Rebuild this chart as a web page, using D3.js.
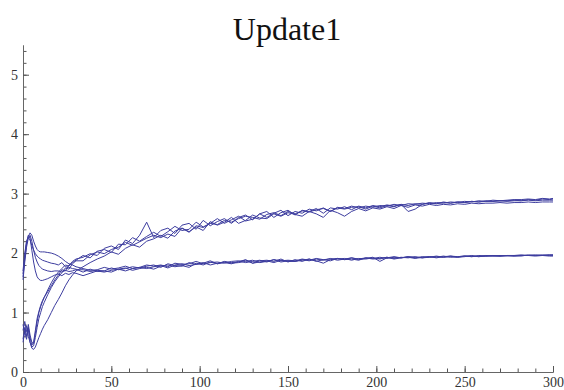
<!DOCTYPE html>
<html>
<head>
<meta charset="utf-8">
<script src="https://cdn.jsdelivr.net/npm/d3@7"></script>
</head>
<body style="margin:0">
<svg id="plot" width="564" height="390"></svg>
<script>
const margin = { top: 45, right: 11, bottom: 18, left: 23 },
	width = 564 - margin.left - margin.right,
	height = 390 - margin.top - margin.bottom;

const title = "Update1";
const line_colour = "#3d3d9f";
const serif = '"Liberation Serif"';

// shared x positions (finer at the start)
const xs = [
	0, 1, 2, 3, 4, 5, 6, 7, 8, 9, 10, 11, 12, 14, 16, 18, 20, 22, 24, 26, 28, 30,
	34, 38, 42, 46, 50, 54, 58, 62, 66, 70,
	74, 78, 82, 86, 90, 94, 98, 102, 106, 110,
	114, 118, 122, 126, 130, 134, 138, 142, 146, 150,
	154, 158, 162, 166, 170, 174, 178, 182, 186, 190,
	194, 198, 202, 206, 210, 214, 218, 222, 226, 230,
	234, 238, 242, 246, 250, 254, 258, 262, 266, 270,
	274, 278, 282, 286, 290, 294, 298, 300
];

// upper group (start low, settle near 2.9)
const run_u1 = [
	0.55, 0.75, 0.6, 0.8, 0.62, 0.5, 0.48, 0.65, 0.85, 1.0, 1.1, 1.18, 1.25, 1.38, 1.5, 1.6, 1.68, 1.74, 1.8, 1.78, 1.86, 1.9,
	1.93, 1.99, 1.96, 2.08, 2.12, 2.06, 2.22, 2.16, 2.3, 2.52,
	2.26, 2.38, 2.42, 2.33, 2.47, 2.5, 2.4, 2.55, 2.46, 2.53,
	2.58, 2.5, 2.6, 2.64, 2.56, 2.66, 2.7, 2.6, 2.68, 2.72,
	2.64, 2.72, 2.7, 2.75, 2.67, 2.76, 2.74, 2.78, 2.73, 2.79,
	2.76, 2.8, 2.78, 2.81, 2.79, 2.82, 2.8, 2.83, 2.82, 2.85,
	2.83, 2.86, 2.84, 2.86, 2.85, 2.87, 2.86, 2.88, 2.87, 2.88,
	2.88, 2.89, 2.88, 2.9, 2.89, 2.91, 2.9, 2.91
];
const run_u2 = [
	0.7, 0.85, 0.68, 0.75, 0.58, 0.45, 0.5, 0.7, 0.9, 1.02, 1.12, 1.2, 1.26, 1.35, 1.45, 1.55, 1.63, 1.72, 1.7, 1.8, 1.84, 1.88,
	1.96, 1.92, 2.03, 2.06, 2.01, 2.15, 2.14, 2.26, 2.2, 2.28,
	2.35, 2.28, 2.36, 2.45, 2.38, 2.4, 2.52, 2.44, 2.5, 2.58,
	2.5, 2.56, 2.62, 2.54, 2.57, 2.66, 2.6, 2.67, 2.72, 2.63,
	2.7, 2.67, 2.74, 2.71, 2.76, 2.7, 2.77, 2.75, 2.79, 2.76,
	2.79, 2.77, 2.8, 2.79, 2.82, 2.8, 2.83, 2.82, 2.84, 2.83,
	2.85, 2.84, 2.86, 2.85, 2.87, 2.86, 2.88, 2.87, 2.89, 2.88,
	2.89, 2.9, 2.9, 2.91, 2.9, 2.92, 2.91, 2.92
];
const run_u3 = [
	0.8, 0.65, 0.78, 0.6, 0.5, 0.42, 0.44, 0.58, 0.75, 0.9, 1.0, 1.1, 1.17, 1.3, 1.42, 1.52, 1.6, 1.67, 1.75, 1.73, 1.82, 1.87,
	1.87, 1.97, 2.02, 1.99, 2.06, 2.1, 2.18, 2.13, 2.19, 2.25,
	2.3, 2.26, 2.32, 2.28, 2.42, 2.36, 2.44, 2.38, 2.53, 2.47,
	2.52, 2.6, 2.5, 2.55, 2.64, 2.59, 2.58, 2.66, 2.62, 2.68,
	2.65, 2.62, 2.7, 2.66, 2.6, 2.72, 2.68, 2.62, 2.7, 2.75,
	2.71, 2.76, 2.74, 2.78, 2.75, 2.8, 2.77, 2.81, 2.79, 2.82,
	2.8, 2.82, 2.81, 2.83, 2.82, 2.84, 2.83, 2.84, 2.84, 2.85,
	2.84, 2.85, 2.85, 2.86, 2.85, 2.86, 2.86, 2.86
];
const run_u4 = [
	0.5, 0.68, 0.55, 0.72, 0.5, 0.4, 0.38, 0.42, 0.5, 0.58, 0.65, 0.72, 0.78, 0.88, 1.0, 1.12, 1.22, 1.33, 1.45, 1.55, 1.63, 1.7,
	1.77, 1.84, 1.9, 1.95, 2.02, 1.98, 2.08, 2.14, 2.1, 2.2,
	2.24, 2.3, 2.25, 2.37, 2.42, 2.35, 2.46, 2.43, 2.5, 2.48,
	2.55, 2.52, 2.58, 2.62, 2.6, 2.57, 2.65, 2.68, 2.63, 2.7,
	2.66, 2.71, 2.69, 2.73, 2.75, 2.7, 2.76, 2.74, 2.77, 2.78,
	2.74, 2.79, 2.76, 2.8, 2.78, 2.82, 2.7, 2.74, 2.82, 2.84,
	2.83, 2.85, 2.84, 2.86, 2.85, 2.87, 2.86, 2.87, 2.87, 2.88,
	2.87, 2.88, 2.88, 2.89, 2.88, 2.89, 2.89, 2.89
];

// lower group (start high, settle near 1.95)
const run_l1 = [
	1.6, 1.9, 2.15, 2.28, 2.34, 2.3, 2.2, 2.12, 2.06, 2.03, 2.02, 2.02, 2.02, 2.01, 2.0, 1.98, 1.95, 1.91, 1.86, 1.82, 1.8, 1.77,
	1.74, 1.71, 1.72, 1.76, 1.73, 1.75, 1.78, 1.74, 1.76, 1.8,
	1.78, 1.8, 1.77, 1.83, 1.81, 1.82, 1.86, 1.82, 1.84, 1.85,
	1.83, 1.86, 1.87, 1.84, 1.86, 1.88, 1.85, 1.89, 1.87, 1.88,
	1.87, 1.9, 1.88, 1.91, 1.89, 1.9, 1.91, 1.89, 1.92, 1.9,
	1.92, 1.91, 1.93, 1.91, 1.93, 1.92, 1.94, 1.92, 1.94, 1.93,
	1.94, 1.93, 1.95, 1.94, 1.95, 1.94, 1.95, 1.95, 1.96, 1.95,
	1.96, 1.95, 1.96, 1.96, 1.97, 1.96, 1.97, 1.96
];
const run_l2 = [
	1.7, 2.0, 2.2, 2.26, 2.22, 2.13, 2.05, 1.99, 1.95, 1.92, 1.9, 1.88, 1.87, 1.85, 1.83, 1.82, 1.8, 1.84, 1.77, 1.76, 1.74, 1.73,
	1.68, 1.73, 1.69, 1.7, 1.75, 1.72, 1.74, 1.77, 1.75, 1.78,
	1.8, 1.76, 1.82, 1.79, 1.78, 1.84, 1.81, 1.83, 1.87, 1.82,
	1.86, 1.84, 1.85, 1.89, 1.83, 1.87, 1.88, 1.86, 1.9, 1.85,
	1.89, 1.86, 1.9, 1.87, 1.83, 1.89, 1.9, 1.91, 1.88, 1.91,
	1.9, 1.92, 1.9, 1.93, 1.91, 1.93, 1.92, 1.94, 1.92, 1.94,
	1.93, 1.95, 1.93, 1.94, 1.95, 1.94, 1.96, 1.95, 1.95, 1.96,
	1.95, 1.96, 1.97, 1.96, 1.96, 1.97, 1.96, 1.97
];
const run_l3 = [
	1.55, 1.85, 2.1, 2.25, 2.3, 2.2, 2.05, 1.93, 1.85, 1.79, 1.76, 1.73, 1.72, 1.7, 1.69, 1.7, 1.7, 1.68, 1.71, 1.69, 1.7, 1.72,
	1.72, 1.69, 1.71, 1.7, 1.68, 1.73, 1.75, 1.71, 1.74, 1.76,
	1.73, 1.78, 1.8, 1.77, 1.79, 1.76, 1.83, 1.8, 1.85, 1.82,
	1.84, 1.82, 1.86, 1.88, 1.83, 1.85, 1.87, 1.84, 1.88, 1.86,
	1.86, 1.89, 1.87, 1.9, 1.88, 1.91, 1.88, 1.9, 1.92, 1.89,
	1.91, 1.93, 1.86, 1.92, 1.94, 1.92, 1.93, 1.91, 1.93, 1.94,
	1.92, 1.94, 1.95, 1.93, 1.94, 1.96, 1.94, 1.95, 1.96, 1.95,
	1.96, 1.96, 1.95, 1.97, 1.96, 1.96, 1.97, 1.97
];
const run_l4 = [
	1.65, 1.95, 2.18, 2.3, 2.25, 2.05, 1.85, 1.7, 1.6, 1.56, 1.54, 1.54, 1.55, 1.57, 1.6, 1.63, 1.65, 1.62, 1.66, 1.64, 1.67, 1.66,
	1.62, 1.66, 1.7, 1.68, 1.71, 1.73, 1.7, 1.74, 1.76, 1.74,
	1.77, 1.79, 1.75, 1.8, 1.82, 1.79, 1.81, 1.84, 1.8, 1.83,
	1.85, 1.83, 1.84, 1.86, 1.88, 1.84, 1.86, 1.89, 1.85, 1.87,
	1.86, 1.88, 1.9, 1.86, 1.89, 1.87, 1.91, 1.89, 1.9, 1.88,
	1.92, 1.9, 1.91, 1.93, 1.9, 1.92, 1.94, 1.93, 1.92, 1.93,
	1.95, 1.93, 1.94, 1.93, 1.95, 1.95, 1.94, 1.96, 1.95, 1.95,
	1.96, 1.95, 1.96, 1.96, 1.95, 1.96, 1.95, 1.95
];

const runs = [run_u1, run_u2, run_u3, run_u4, run_l1, run_l2, run_l3, run_l4];

const svg = d3.select("#plot");

svg
	.append("text")
	.attr("x", 287)
	.attr("y", 40)
	.attr("text-anchor", "middle")
	.style("font-family", serif)
	.style("font-size", "32px")
	.style("fill", "#111")
	.text(title);

const plot = svg
	.append("g")
	.attr("transform", `translate(${margin.left},${margin.top})`);

const x = d3.scaleLinear().domain([0, 300]).range([0, width]);
const y = d3.scaleLinear().domain([0, 5.5]).range([height, 0]);

function style_axis(g) {
	g.select(".domain").attr("stroke", "#666").attr("stroke-width", 1);
	g.selectAll(".tick line").attr("stroke", "#555");
	g.selectAll(".tick text")
		.style("font-family", serif)
		.style("font-size", "14px")
		.attr("fill", "#333");
}

// minor ticks first, then major ticks on top
plot
	.append("g")
	.attr("transform", `translate(0, ${height})`)
	.call(d3.axisBottom(x).tickValues(d3.range(0, 301, 10)).tickSize(-3.5).tickSizeOuter(0).tickFormat(""))
	.call(style_axis);

plot
	.append("g")
	.attr("transform", `translate(0, ${height})`)
	.call(d3.axisBottom(x).tickValues(d3.range(0, 301, 50)).tickSize(-6).tickSizeOuter(0).tickPadding(5))
	.call(style_axis);

plot
	.append("g")
	.call(d3.axisLeft(y).tickValues(d3.range(0, 5.5, 0.2)).tickSize(-3.5).tickSizeOuter(0).tickFormat(""))
	.call(style_axis);

plot
	.append("g")
	.call(d3.axisLeft(y).tickValues([0, 1, 2, 3, 4, 5]).tickSize(-6).tickSizeOuter(0).tickPadding(5).tickFormat(d3.format("d")))
	.call(style_axis);

const line = d3
	.line()
	.x((d, i) => x(xs[i]))
	.y((d) => y(d));

plot
	.selectAll(".run")
	.data(runs)
	.join("path")
	.attr("class", "run")
	.attr("fill", "none")
	.attr("stroke", line_colour)
	.attr("stroke-width", 1)
	.attr("stroke-linejoin", "round")
	.attr("d", line);
</script>
</body>
</html>
